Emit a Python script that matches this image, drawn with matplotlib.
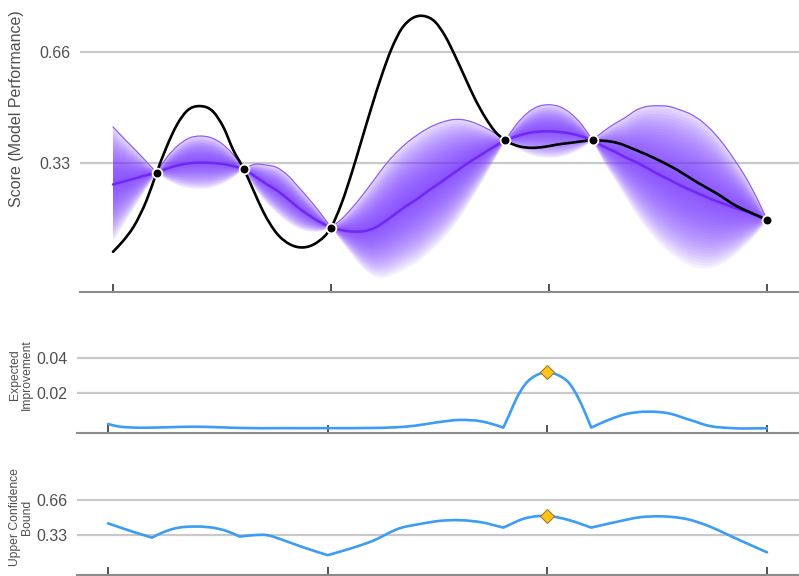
import numpy as np
import matplotlib
matplotlib.use("Agg")
import matplotlib.pyplot as plt
from matplotlib.path import Path
from matplotlib.patches import PathPatch

plt.rcParams["font.family"] = ["Liberation Sans", "DejaVu Sans"]

# ---------------- data ----------------
x_ticks = [0, 5, 10, 15]

# sampled (observed) points
obs_x = [1, 3, 5, 9, 11, 15]
obs_y = [0.302, 0.313, 0.139, 0.398, 0.398, 0.162]

# true objective curve
true_x = [0.0, 0.25, 0.47, 0.77, 1.0, 1.23, 1.46, 1.69, 2.0, 2.3, 2.53, 2.76,
          3.0, 3.22, 3.45, 3.76, 4.06, 4.37, 4.67, 5.0, 5.24, 5.47, 5.7, 5.93,
          6.16, 6.39, 6.62, 6.85, 7.12, 7.39, 7.61, 7.84, 8.07, 8.3, 8.53, 8.76,
          9.0, 9.3, 9.6, 9.9, 10.2, 10.5, 11.0, 11.55, 12.0, 12.47, 12.93, 13.39,
          13.85, 14.3, 14.65, 15.0]
true_y = [0.067, 0.102, 0.141, 0.220, 0.302, 0.379, 0.443, 0.485, 0.500, 0.483,
          0.438, 0.369, 0.313, 0.250, 0.185, 0.121, 0.089, 0.080, 0.094, 0.139,
          0.210, 0.299, 0.398, 0.497, 0.590, 0.671, 0.730, 0.760, 0.768, 0.750,
          0.710, 0.651, 0.586, 0.522, 0.468, 0.425, 0.398, 0.381, 0.376, 0.379,
          0.386, 0.391, 0.398, 0.391, 0.369, 0.342, 0.311, 0.274, 0.240, 0.203,
          0.182, 0.162]

# Gaussian-process posterior on a 0.25 grid: mean and 2-sigma half width
gp_x = np.arange(61) * 0.25
gp_mean = np.array([
    0.267, 0.276, 0.285, 0.294, 0.302, 0.315, 0.324, 0.330, 0.332, 0.331,
    0.328, 0.322, 0.313, 0.292, 0.270, 0.250, 0.225, 0.198, 0.175, 0.155,
    0.139, 0.131, 0.127, 0.128, 0.138, 0.158, 0.182, 0.205, 0.226, 0.250,
    0.272, 0.295, 0.318, 0.340, 0.360, 0.380, 0.398, 0.410, 0.419, 0.424,
    0.425, 0.423, 0.418, 0.410, 0.398, 0.380, 0.365, 0.348, 0.333, 0.316,
    0.298, 0.282, 0.265, 0.250, 0.236, 0.222, 0.210, 0.198, 0.188, 0.175,
    0.162])
gp_band = np.array([
    0.171, 0.128, 0.086, 0.043, 0.000, 0.035, 0.060, 0.075, 0.079, 0.075,
    0.060, 0.035, 0.000, 0.035, 0.055, 0.068, 0.070, 0.062, 0.048, 0.028,
    0.000, 0.034, 0.073, 0.112, 0.145, 0.168, 0.180, 0.187, 0.190, 0.186,
    0.178, 0.164, 0.142, 0.112, 0.078, 0.040, 0.000, 0.035, 0.060, 0.075,
    0.079, 0.075, 0.060, 0.035, 0.000, 0.045, 0.082, 0.118, 0.155, 0.183,
    0.203, 0.217, 0.224, 0.226, 0.219, 0.203, 0.177, 0.143, 0.103, 0.056,
    0.000])

# expected improvement acquisition
ei_x = [0, 0.25, 0.5, 1.0, 1.5, 2.0, 2.5, 3.0, 4.0, 5.0, 6.0, 6.5, 7.0, 7.5,
        8.0, 8.5, 8.75, 9.0, 9.15, 9.3, 9.5, 9.75, 10.0, 10.25, 10.5, 10.7,
        10.85, 11.0, 11.35, 11.8, 12.3, 12.75, 13.25, 13.7, 14.2, 15.0]
ei_y = [0.0025, 0.0011, 0.0006, 0.0005, 0.0008, 0.0010, 0.0007, 0.0003,
        0.0002, 0.0002, 0.0003, 0.0006, 0.0016, 0.0035, 0.0048, 0.0040,
        0.0025, 0.0005, 0.0086, 0.0170, 0.0250, 0.0300, 0.0317, 0.0300,
        0.0255, 0.0175, 0.0095, 0.0005, 0.0044, 0.0082, 0.0095, 0.0086,
        0.0048, 0.0014, 0.0002, 0.0001]

# upper confidence bound acquisition
ucb_x = [0, 0.5, 1.0, 1.25, 1.5, 2.0, 2.5, 2.75, 3.0, 3.3, 3.6, 4.0, 4.4, 5.0,
         5.5, 6.0, 6.65, 7.1, 7.6, 8.0, 8.5, 9.0, 9.5, 10.0, 10.5, 11.0, 11.6,
         12.1, 12.6, 13.2, 13.7, 14.2, 15.0]
ucb_y = [0.44, 0.37, 0.305, 0.355, 0.39, 0.41, 0.39, 0.36, 0.315, 0.328,
         0.33, 0.28, 0.22, 0.14, 0.20, 0.27, 0.395, 0.434, 0.465, 0.47, 0.45,
         0.40, 0.488, 0.51, 0.47, 0.40, 0.456, 0.497, 0.506, 0.478, 0.41,
         0.315, 0.167]

next_x = 10
ei_next = 0.0317
ucb_next = 0.51

# ---------------- style ----------------
PURPLE = "#7c3cff"
PURPLE_LINE = "#7028f5"
BLUE = "#3d9cf5"
GRID = "#c9c9c9"
TEXT = "#505050"


def curve_vertices(xs, ys, breaks=()):
    """Cubic Hermite (Bezier) control polygon through the points; corners kept at breaks."""
    xs = np.asarray(xs, float)
    ys = np.asarray(ys, float)
    cut = [0] + [int(np.argmin(np.abs(xs - b))) for b in breaks if xs[0] < b < xs[-1]]
    cut += [len(xs) - 1]
    verts = [(xs[0], ys[0])]
    for a, b in zip(cut[:-1], cut[1:]):
        sx, sy = xs[a:b + 1], ys[a:b + 1]
        if len(sx) > 2:
            m = np.gradient(sy, sx)
        else:
            m = np.full(len(sx), (sy[-1] - sy[0]) / (sx[-1] - sx[0]))
        for i in range(len(sx) - 1):
            h = sx[i + 1] - sx[i]
            verts.append((sx[i] + h / 3, sy[i] + m[i] * h / 3))
            verts.append((sx[i + 1] - h / 3, sy[i + 1] - m[i + 1] * h / 3))
            verts.append((sx[i + 1], sy[i + 1]))
    return np.array(verts)


def smooth_line(ax, xs, ys, breaks=(), **kw):
    v = curve_vertices(xs, ys, breaks)
    codes = [Path.MOVETO] + [Path.CURVE4] * (len(v) - 1)
    ax.add_patch(PathPatch(Path(v, codes), facecolor="none", joinstyle="round",
                           capstyle="round", **kw))


def smooth_band(ax, xs, lo, hi, breaks=(), **kw):
    up = curve_vertices(xs, hi, breaks)
    dn = curve_vertices(xs, lo, breaks)[::-1]
    v = np.vstack([up, dn, up[:1]])
    codes = ([Path.MOVETO] + [Path.CURVE4] * (len(up) - 1) + [Path.LINETO]
             + [Path.CURVE4] * (len(dn) - 1) + [Path.CLOSEPOLY])
    ax.add_patch(PathPatch(Path(v, codes), lw=0, **kw))


W, H = 799, 576
fig = plt.figure(figsize=(W / 100, H / 100), dpi=100)


def axes_px(left, top, right, bottom):
    return fig.add_axes([left / W, 1 - bottom / H, (right - left) / W, (bottom - top) / H])


def style(ax, yticks, ylabels, xlim, ylim):
    ax.set_xlim(*xlim)
    ax.set_ylim(*ylim)
    for side in ("top", "right", "left"):
        ax.spines[side].set_visible(False)
    ax.spines["bottom"].set_color("#8c8c8c")
    ax.spines["bottom"].set_linewidth(1.5)
    ax.set_xticks(x_ticks)
    ax.set_xticklabels([])
    ax.tick_params(axis="x", direction="in", length=5.5, width=1.2, color="#333333")
    ax.set_yticks(yticks)
    ax.set_yticklabels(ylabels)
    ax.tick_params(axis="y", length=0, pad=7, labelsize=11.5, labelcolor=TEXT)
    ax.yaxis.grid(True, color=GRID, lw=1.6)
    ax.set_axisbelow(True)
    ax.patch.set_alpha(0)


obs_breaks = obs_x[:-1]

# ---- top: objective and GP posterior ----
ax1 = axes_px(80, 0, 799, 292)
style(ax1, [0.33, 0.66], ["0.33", "0.66"], (-0.757, 15.734), (-0.0526, 0.8154))

n_layers = 24
for k in range(1, n_layers + 1):
    f = k / n_layers
    smooth_band(ax1, gp_x, gp_mean - gp_band * f, gp_mean + gp_band * f, obs_breaks,
                facecolor=PURPLE, alpha=0.07, zorder=1)
smooth_band(ax1, gp_x, gp_mean, gp_mean + gp_band, obs_breaks,
            facecolor=PURPLE, alpha=0.12, zorder=1)
smooth_line(ax1, gp_x, gp_mean + gp_band, obs_breaks, edgecolor="#8f5cf7", lw=0.9, zorder=2)
smooth_line(ax1, gp_x, gp_mean, obs_breaks, edgecolor=PURPLE_LINE, lw=1.8, zorder=2)
smooth_line(ax1, true_x, true_y, (), edgecolor="black", lw=1.9, zorder=3)
ax1.plot(obs_x, obs_y, "o", ms=7, mfc="black", mec="white", mew=1.3, zorder=4)

# ---- middle: expected improvement ----
ax2 = axes_px(77, 335, 799, 433)
style(ax2, [0.02, 0.04], ["0.02", "0.04"], (-0.7057, 15.73), (-0.00254, 0.05268))
smooth_line(ax2, ei_x, ei_y, (9, 11), edgecolor=BLUE, lw=1.9, zorder=3)
ax2.plot(next_x, ei_next, marker="D", ms=7.5, mfc="#ffc41a", mec="#a07c24", mew=0.8, zorder=4)

# ---- bottom: upper confidence bound ----
ax3 = axes_px(77, 480, 799, 575)
style(ax3, [0.33, 0.66], ["0.33", "0.66"], (-0.7057, 15.73), (-0.0472, 0.849))
smooth_line(ax3, ucb_x, ucb_y, obs_breaks, edgecolor=BLUE, lw=1.9, zorder=3)
ax3.plot(next_x, ucb_next, marker="D", ms=7.5, mfc="#ffc41a", mec="#a07c24", mew=0.8, zorder=4)

# axis titles
fig.text(17 / W, 1 - 108.5 / H, "Score (Model Performance)", rotation=90,
         ha="center", va="center", fontsize=11.5, color=TEXT)
fig.text(21 / W, 1 - 375 / H, "Expected\nImprovement", rotation=90,
         ha="center", va="center", fontsize=8.7, color=TEXT, multialignment="center",
         linespacing=1.05)
fig.text(21 / W, 1 - 517 / H, "Upper Confidence\nBound", rotation=90,
         ha="center", va="center", fontsize=8.7, color=TEXT, multialignment="center",
         linespacing=1.05)

fig.savefig("out.png", dpi=100)
